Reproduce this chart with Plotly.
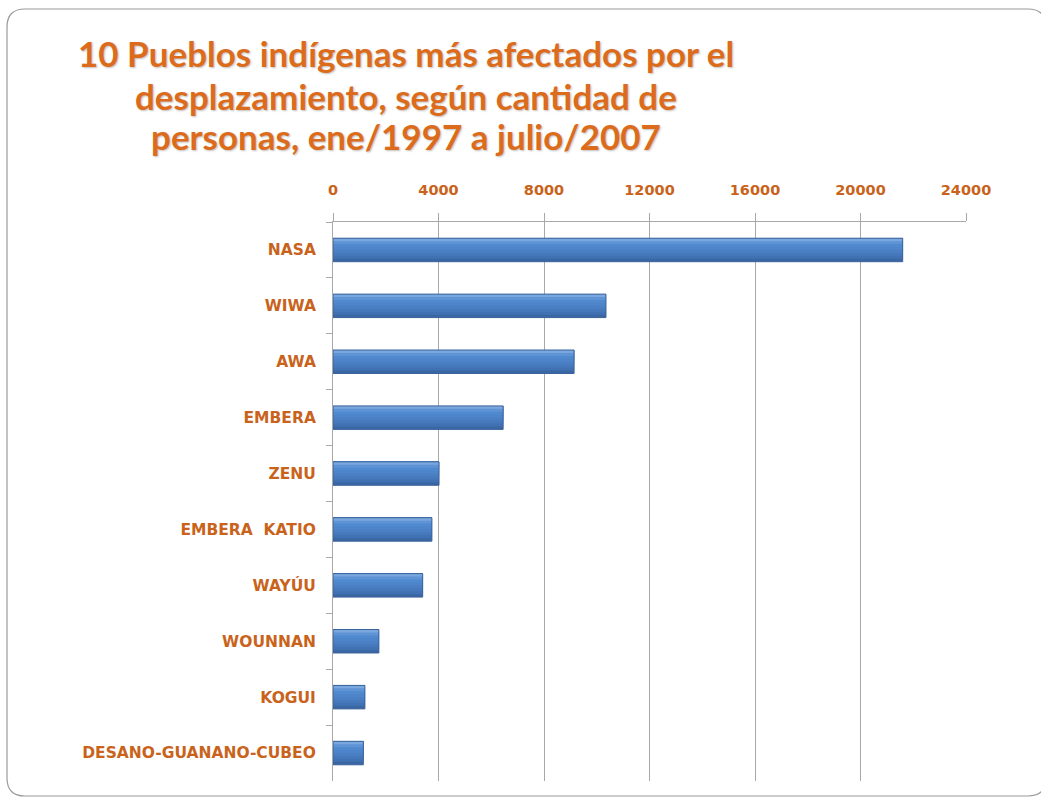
import plotly.graph_objects as go

# Displaced people per indigenous group, Jan 1997 - Jul 2007
pueblos = ["NASA", "WIWA", "AWA", "EMBERA", "ZENU", "EMBERA  KATIO",
           "WAYÚU", "WOUNNAN", "KOGUI", "DESANO-GUANANO-CUBEO"]
personas = [21600, 10350, 9140, 6450, 4020, 3750, 3400, 1740, 1210, 1150]
x_ticks = [0, 4000, 8000, 12000, 16000, 20000, 24000]
title_lines = ["10 Pueblos indígenas más afectados por el",
               "desplazamiento, según cantidad de",
               "personas, ene/1997 a julio/2007"]

W, H = 1041, 798
L, R, T, B = 333, 75, 222, 17
PW, PH = W - L - R, H - T - B

def px(x):
    return (x - L) / PW

def py(y):
    return (H - B - y) / PH

ORANGE = "#DC6C1C"
LABEL = "#C9631C"
GRID = "#A8A8A8"

BAR_W = 0.42
# shading from the bottom edge up to the top edge, for a rounded look
band_colors = ["#3A67A4", "#4071B2", "#4679BC", "#4A7FC4", "#4D84CA",
               "#5189CF", "#5E93D6", "#7AA7DE"]

fig = go.Figure()
n = len(band_colors)
for i, c in enumerate(band_colors):
    # each layer starts at the top edge and covers a shrinking share of the bar
    fig.add_trace(go.Bar(
        y=pueblos, x=personas, orientation="h",
        width=BAR_W * (n - i) / n, offset=-BAR_W / 2,
        marker=dict(color=c, line=dict(width=0)),
        hoverinfo="x+y" if i == 0 else "skip", showlegend=False,
    ))
# thin outline around the whole bar
fig.add_trace(go.Bar(
    y=pueblos, x=personas, orientation="h",
    width=BAR_W, offset=-BAR_W / 2,
    marker=dict(color="rgba(0,0,0,0)", line=dict(color="#3A639A", width=1)),
    hoverinfo="skip", showlegend=False,
))

# rounded outer frame
x0, y0, x1, y1, r = 7, 9, 1046, 796, 18
path = (
    f"M {px(x0 + r)} {py(y0)} L {px(x1 - r)} {py(y0)} "
    f"Q {px(x1)} {py(y0)} {px(x1)} {py(y0 + r)} "
    f"L {px(x1)} {py(y1 - r)} Q {px(x1)} {py(y1)} {px(x1 - r)} {py(y1)} "
    f"L {px(x0 + r)} {py(y1)} Q {px(x0)} {py(y1)} {px(x0)} {py(y1 - r)} "
    f"L {px(x0)} {py(y0 + r)} Q {px(x0)} {py(y0)} {px(x0 + r)} {py(y0)} Z"
)
fig.add_shape(type="path", path=path, xref="paper", yref="paper",
              line=dict(color="#9A9A9A", width=1.2), layer="below")

# title, one annotation per line for tighter line spacing
for line, yc in zip(title_lines, [53, 96, 136]):
    fig.add_annotation(
        text=line, xref="paper", yref="paper", x=px(406), y=py(yc),
        xanchor="center", yanchor="middle", showarrow=False,
        font=dict(family="Lato", size=35, color=ORANGE, weight="bold",
                  shadow="1px 1px 2px rgba(0,0,0,0.25)"),
    )

fig.update_layout(
    width=W, height=H,
    margin=dict(l=L, r=R, t=T, b=B),
    paper_bgcolor="white", plot_bgcolor="white",
    barmode="overlay",
    xaxis=dict(
        side="top", range=[0, 24000], tickvals=x_ticks,
        ticktext=[str(v) for v in x_ticks],
        showgrid=True, gridcolor=GRID, gridwidth=1,
        showline=True, linecolor=GRID, linewidth=1,
        ticks="outside", ticklen=8, tickcolor=GRID,
        ticklabelstandoff=12, zeroline=False,
        tickfont=dict(family="DejaVu Sans", size=14.5, color=LABEL, weight="bold"),
    ),
    yaxis=dict(
        autorange="reversed", showgrid=False,
        showline=True, linecolor=GRID, linewidth=1,
        ticks="outside", tickson="boundaries", ticklen=6, tickcolor=GRID,
        ticklabelstandoff=13,
        tickfont=dict(family="DejaVu Sans", size=15.5, color=LABEL, weight="bold"),
    ),
)

fig.write_html("out.html")
